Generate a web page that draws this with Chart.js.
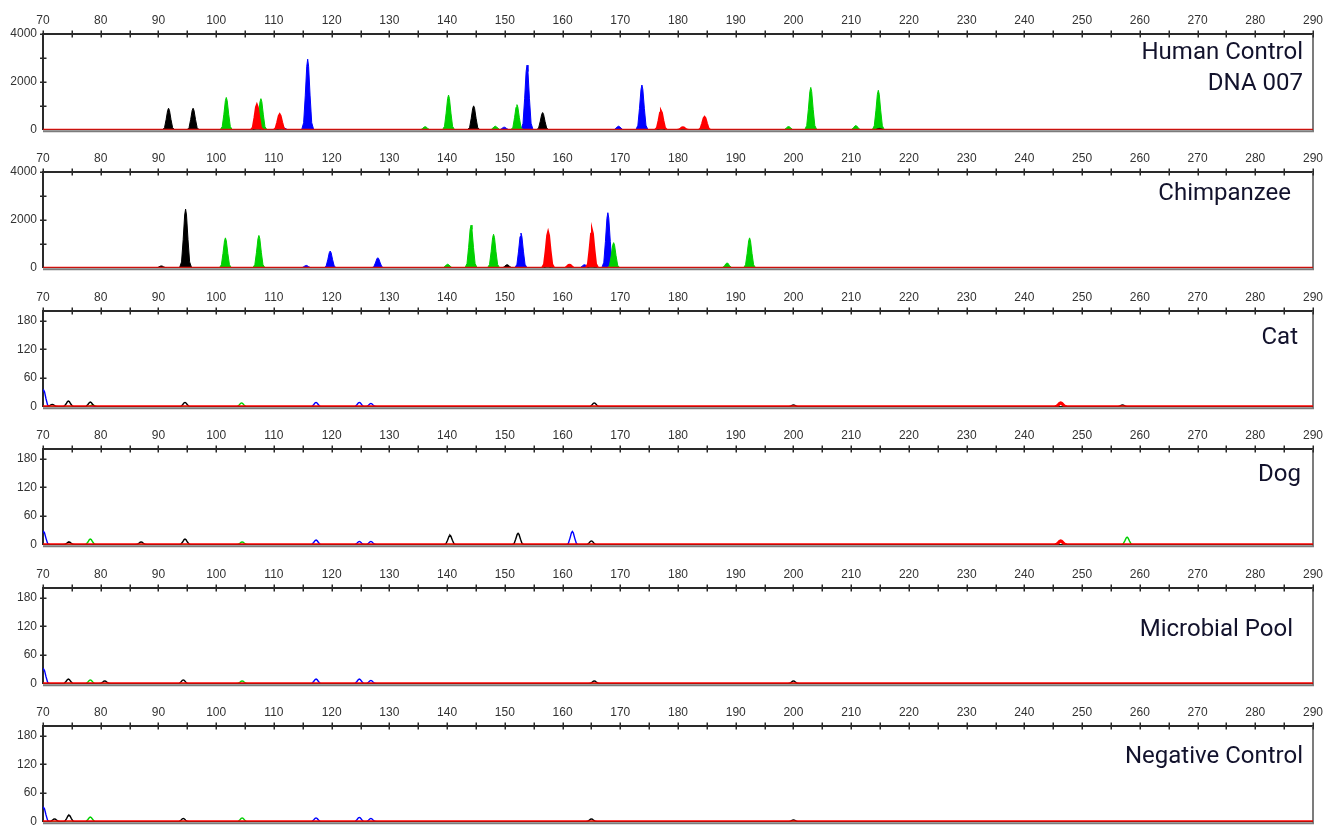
<!DOCTYPE html>
<html>
<head>
<meta charset="utf-8">
<title>Species specificity electropherograms</title>
<script src="https://cdn.jsdelivr.net/npm/chart.js@4.4.1/dist/chart.umd.min.js"></script>
<style>
  html, body { margin: 0; padding: 0; background: #fff; width: 1336px; height: 825px; overflow: hidden; }
  .panel { position: absolute; left: 0; width: 1336px; height: 140px; }
  .name { position: absolute; font-family: Roboto, "DejaVu Sans", sans-serif; font-size: 24px;
          line-height: 30.7px; color: #12122c; text-align: right; white-space: pre-line; }
</style>
</head>
<body>
<script>
// ---- axis ranges and ticks ----
const sizeMin = 70, sizeMax = 290;              // fragment size (bp)
const sizeLabels = [70, 80, 90, 100, 110, 120, 130, 140, 150, 160, 170, 180, 190, 200,
                    210, 220, 230, 240, 250, 260, 270, 280, 290];
const rfuTicksHigh = [0, 1000, 2000, 3000, 4000];
const rfuLabelsHigh = [0, 2000, 4000];
const rfuTicksLow = [0, 30, 60, 90, 120, 150, 180];
const rfuLabelsLow = [0, 60, 120, 180];

// ---- samples ----
const sampleNames = ['Human Control\nDNA 007', 'Chimpanzee', 'Cat', 'Dog', 'Microbial Pool', 'Negative Control'];
const sampleRfuMax = [4000, 4000, 200, 200, 200, 200];

// ---- peaks per dye channel: [size (bp), height (RFU)] ----
const humanBlue  = [[107.2, 60], [111.7, 80], [115.85, 2950], [149.9, 110], [153.85, 2700], [169.7, 150], [173.75, 1870]];
const humanGreen = [[101.75, 1350], [107.75, 1300], [136.2, 130], [140.25, 1450], [148.35, 150], [152.1, 1050],
                    [199.15, 136], [203.0, 1770], [210.8, 176], [214.7, 1650]];
const humanBlack = [[91.75, 900], [96.0, 900], [107.3, 200], [111.2, 70], [144.6, 1000], [156.55, 720], [177.1, 60], [214.9, 60]];
const humanRed   = [[107.05, 1050], [111.0, 650], [177.05, 790], [180.85, 110], [184.6, 540]];

const chimpBlue  = [[115.6, 100], [119.75, 700], [128.0, 420], [152.8, 1450], [163.8, 130], [167.85, 2300]];
const chimpGreen = [[101.6, 1250], [107.4, 1350], [140.1, 150], [144.15, 1780], [148.05, 1400], [168.85, 1050],
                    [188.5, 200], [192.4, 1250]];
const chimpBlack = [[90.5, 80], [94.7, 2450], [150.4, 130], [157.4, 60], [165.0, 80]];
const chimpRed   = [[157.5, 1500], [161.2, 130], [165.1, 1580]];

const catBlue  = [[70.1, 35], [117.3, 9], [124.8, 9], [126.8, 7]];
const catGreen = [[78.6, 4], [104.4, 8]];
const catBlack = [[71.6, 5], [74.4, 12], [78.2, 10], [94.6, 9], [165.5, 8], [200.0, 4], [257.0, 4]];
const catRed   = [[246.3, 8]];

const dogBlue  = [[70.1, 28], [117.3, 10], [124.8, 7], [126.8, 7], [161.7, 28]];
const dogGreen = [[78.2, 12], [104.5, 6], [257.8, 16]];
const dogBlack = [[74.5, 6], [87.0, 6], [94.6, 12], [140.5, 20], [152.3, 24], [165.0, 8]];
const dogRed   = [[246.3, 8]];

const microBlue  = [[70.1, 31], [117.3, 10], [124.8, 10], [126.8, 7]];
const microGreen = [[78.2, 8], [104.5, 6]];
const microBlack = [[74.4, 10], [80.7, 6], [94.3, 8], [165.5, 6], [200.0, 6]];
const microRed   = [];

const negBlue  = [[70.1, 30], [117.3, 8], [124.8, 9], [126.8, 7]];
const negGreen = [[78.2, 10], [104.5, 8]];
const negBlack = [[72.0, 6], [74.5, 14], [94.3, 7], [165.0, 6], [200.0, 4]];
const negRed   = [];

const sampleTraces = [
  { blue: humanBlue, green: humanGreen, black: humanBlack, red: humanRed },
  { blue: chimpBlue, green: chimpGreen, black: chimpBlack, red: chimpRed },
  { blue: catBlue,   green: catGreen,   black: catBlack,   red: catRed },
  { blue: dogBlue,   green: dogGreen,   black: dogBlack,   red: dogRed },
  { blue: microBlue, green: microGreen, black: microBlack, red: microRed },
  { blue: negBlue,   green: negGreen,   black: negBlack,   red: negRed }
];

// ---- layout ----
const panelTops = [34, 172, 311, 449, 588, 726];
const plotHeight = 97.5;
const nameBoxes = [ // right edge, first baseline
  [1303, 59.3], [1291, 200], [1298, 344.3], [1301, 481], [1293, 636], [1303, 763]
];

const dyeColors = { red: '#ff0000', black: '#000000', green: '#00d000', blue: '#0000ff' };
const dyeOrder = ['red', 'black', 'green', 'blue']; // first dataset is painted on top

// shape of one electrophoretic peak around its apex (dx in bp, fraction of height)
const PEAK_PROFILE = [[-1.05, 0], [-0.7, 0.1], [-0.42, 0.48], [-0.16, 0.9], [0, 1],
                      [0.16, 0.9], [0.42, 0.48], [0.7, 0.1], [1.05, 0]];
function trace(peaks) {
  const pts = [{ x: sizeMin - 2, y: 0 }];
  peaks.forEach(([c, h]) => PEAK_PROFILE.forEach(([dx, f]) => pts.push({ x: c + dx, y: h * f })));
  pts.push({ x: sizeMax + 2, y: 0 });
  return pts;
}

// tick marks that cross the axis lines, plus the grey right/bottom frame
const frameTicks = {
  id: 'frameTicks',
  beforeDatasetsDraw(chart) {
    const { ctx, chartArea: a } = chart;
    ctx.save();
    ctx.strokeStyle = '#7c7c7c';
    ctx.lineWidth = 2;
    ctx.beginPath();
    ctx.moveTo(a.right, a.top);
    ctx.lineTo(a.right, a.bottom + 1.5);
    ctx.lineTo(a.left, a.bottom + 1.5);
    ctx.stroke();
    ctx.restore();
  },
  afterDatasetsDraw(chart) {
    const { ctx, chartArea: a, scales: { x, y } } = chart;
    ctx.save();
    ctx.strokeStyle = '#2a2a2a';
    ctx.lineWidth = 1.5;
    ctx.beginPath();
    x.ticks.forEach(t => {
      const px = Math.round(x.getPixelForValue(t.value)) + 0.25;
      ctx.moveTo(px, a.top - 3.5);
      ctx.lineTo(px, a.top + 3.5);
    });
    y.ticks.forEach(t => {
      if (t.value === 0) return;
      const py = Math.round(y.getPixelForValue(t.value)) + 0.25;
      ctx.moveTo(a.left - 3, py);
      ctx.lineTo(a.left + 3.5, py);
    });
    ctx.stroke();
    ctx.restore();
  }
};

const tickFont = { family: '"Liberation Sans", Arial, sans-serif', size: 12 };

sampleNames.forEach((name, i) => {
  const high = sampleRfuMax[i] > 1000;
  const filled = high;
  const canvasTop = panelTops[i] - 31;
  const holder = document.createElement('div');
  holder.className = 'panel';
  holder.style.top = canvasTop + 'px';
  const canvas = document.createElement('canvas');
  canvas.width = 1336;
  canvas.height = 140;
  holder.appendChild(canvas);
  document.body.appendChild(holder);

  const datasets = dyeOrder.map(dye => ({
    label: dye,
    data: trace(sampleTraces[i][dye]),
    borderColor: dyeColors[dye],
    backgroundColor: dyeColors[dye],
    borderWidth: dye === 'red' ? (high ? 2 : 3.2) : (high ? 1 : 1.4),
    fill: filled ? 'origin' : false,
    pointRadius: 0,
    tension: 0
  }));

  const yTicks = high ? rfuTicksHigh : rfuTicksLow;
  const yLabels = high ? rfuLabelsHigh : rfuLabelsLow;

  new Chart(canvas, {
    type: 'line',
    data: { datasets },
    options: {
      responsive: false,
      animation: false,
      events: [],
      layout: { padding: { top: 3, left: 0, right: 23, bottom: 140 - 31 - plotHeight } },
      plugins: { legend: { display: false }, tooltip: { enabled: false } },
      scales: {
        x: {
          type: 'linear',
          position: 'top',
          min: sizeMin,
          max: sizeMax,
          afterFit: s => { s.height = 28; },
          grid: { display: false, drawTicks: false },
          border: { display: true, color: '#2a2a2a', width: 2 },
          ticks: {
            stepSize: 5,
            autoSkip: false,
            maxRotation: 0,
            padding: 6,
            color: '#333',
            font: tickFont,
            callback: v => (sizeLabels.includes(v) ? String(v) : '')
          }
        },
        y: {
          type: 'linear',
          position: 'left',
          min: 0,
          max: sampleRfuMax[i],
          afterFit: s => { s.width = 43; },
          afterBuildTicks: s => { s.ticks = yTicks.map(v => ({ value: v })); },
          grid: { display: false, drawTicks: false },
          border: { display: true, color: '#2a2a2a', width: 2 },
          ticks: {
            padding: 6,
            color: '#333',
            font: tickFont,
            callback: v => (yLabels.includes(v) ? String(v) : '')
          }
        }
      }
    },
    plugins: [frameTicks]
  });

  const label = document.createElement('div');
  label.className = 'name';
  label.textContent = name;
  label.style.right = (1336 - nameBoxes[i][0]) + 'px';
  label.style.top = (nameBoxes[i][1] - 23.5) + 'px';
  document.body.appendChild(label);
});
</script>
</body>
</html>
